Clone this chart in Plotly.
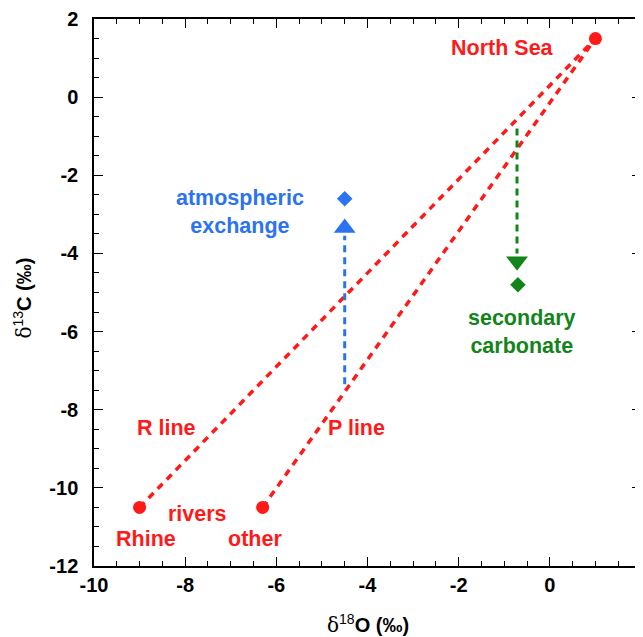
import plotly.graph_objects as go

# Tick labels
x_ticks = [-10, -8, -6, -4, -2, 0, 2]
y_ticks = [-12, -10, -8, -6, -4, -2, 0, 2]

# End members
end_names = ["North Sea", "Rhine", "other"]
end_x = [1.0, -9.0, -6.3]
end_y = [1.5, -10.5, -10.5]

# Mixing lines (R line: Rhine -> North Sea, P line: other rivers -> North Sea)
r_line_x = [-9.0, 1.0]
r_line_y = [-10.5, 1.5]
p_line_x = [-6.3, 1.0]
p_line_y = [-10.5, 1.5]

# Process end points (diamonds)
atm_x, atm_y = -4.5, -2.6
sec_x, sec_y = -0.7, -4.8

# Arrows (start -> tip)
atm_arrow_x = [-4.5, -4.5]
atm_arrow_y = [-7.35, -3.05]
sec_arrow_x = [-0.72, -0.72]
sec_arrow_y = [-0.8, -4.5]

RED = "#ff1a1a"
BLUE = "#2b73f0"
GREEN = "#13841a"
FONT = "Liberation Sans, Arial, sans-serif"

fig = go.Figure()

for lx, ly in [(r_line_x, r_line_y), (p_line_x, p_line_y)]:
    fig.add_trace(go.Scatter(x=lx, y=ly, mode="lines",
                             line=dict(color=RED, width=3.5, dash="7px,6px"),
                             hoverinfo="skip", showlegend=False))

fig.add_trace(go.Scatter(x=end_x, y=end_y, mode="markers",
                         marker=dict(color=RED, size=13, symbol="circle"),
                         showlegend=False))

fig.add_trace(go.Scatter(x=[atm_x], y=[atm_y], mode="markers",
                         marker=dict(color=BLUE, size=12, symbol="diamond"),
                         showlegend=False))
fig.add_trace(go.Scatter(x=[sec_x], y=[sec_y], mode="markers",
                         marker=dict(color=GREEN, size=12, symbol="diamond"),
                         showlegend=False))

# Arrow shafts
fig.add_trace(go.Scatter(x=atm_arrow_x, y=[atm_arrow_y[0], atm_arrow_y[1] - 0.5], mode="lines",
                         line=dict(color=BLUE, width=3, dash="7px,5px"),
                         showlegend=False, hoverinfo="skip"))
fig.add_trace(go.Scatter(x=sec_arrow_x, y=[sec_arrow_y[0], sec_arrow_y[1] + 0.5], mode="lines",
                         line=dict(color=GREEN, width=3, dash="7px,5px"),
                         showlegend=False, hoverinfo="skip"))
# Arrow heads
fig.add_trace(go.Scatter(x=[atm_arrow_x[1]], y=[atm_arrow_y[1] - 0.3], mode="markers",
                         marker=dict(color=BLUE, size=19, symbol="triangle-up"),
                         showlegend=False, hoverinfo="skip"))
fig.add_trace(go.Scatter(x=[sec_arrow_x[1]], y=[sec_arrow_y[1] + 0.3], mode="markers",
                         marker=dict(color=GREEN, size=19, symbol="triangle-down"),
                         showlegend=False, hoverinfo="skip"))

labels = [
    ("North Sea", -1.03, 1.26, RED),
    ("R line", -8.4, -8.48, RED),
    ("P line", -4.25, -8.48, RED),
    ("rivers", -7.74, -10.68, RED),
    ("Rhine", -8.86, -11.32, RED),
    ("other", -6.47, -11.32, RED),
    ("atmospheric<br>exchange", -6.8, -2.95, BLUE),
    ("secondary<br>carbonate", -0.61, -6.0, GREEN),
]
for txt, x, y, c in labels:
    fig.add_annotation(x=x, y=y, text=f"<b>{txt}</b>", showarrow=False,
                       font=dict(color=c, size=21.5, family=FONT))

# Axis titles
fig.add_annotation(xref="paper", yref="paper", x=0.5, y=0, yshift=-58, yanchor="middle",
                   text='<span style="font-family:DejaVu Serif;font-weight:normal">δ</span><sup>18</sup><b>O (‰)</b>',
                   showarrow=False, font=dict(size=20, family=FONT, color="black"))
fig.add_annotation(xref="paper", yref="paper", x=0, y=0.5, xshift=-72, yshift=-6,
                   xanchor="center", yanchor="middle", textangle=-90,
                   text='<span style="font-family:DejaVu Serif;font-weight:normal">δ</span><sup>13</sup><b>C (‰)</b>',
                   showarrow=False, font=dict(size=20, family=FONT, color="black"))

axis_common = dict(
    showgrid=False, zeroline=False, showline=True, linecolor="black", linewidth=1.5,
    mirror="ticks", ticks="inside", ticklen=9, tickwidth=1.2, tickcolor="black",
    tickfont=dict(size=20, family=FONT, color="black"),
    minor=dict(ticks="inside", ticklen=5, tickwidth=1, tickcolor="black", dtick=0.5),
    automargin=False, ticklabeloverflow="allow",
)

fig.update_xaxes(range=[-10, 2], tickvals=x_ticks, ticktext=[f"<b>{v}</b>" for v in x_ticks],
                 ticklabelstandoff=0, **axis_common)
fig.update_yaxes(range=[-12, 2], tickvals=y_ticks, ticktext=[f"<b>{v}</b>" for v in y_ticks],
                 ticklabelstandoff=10, **axis_common)

# The page adds an 8px body margin, so the figure is shrunk to compensate
fig.update_layout(
    width=635, height=629,
    margin=dict(l=86, r=2, t=11, b=71),
    plot_bgcolor="white", paper_bgcolor="white",
    showlegend=False,
)

fig.write_html("out.html")
